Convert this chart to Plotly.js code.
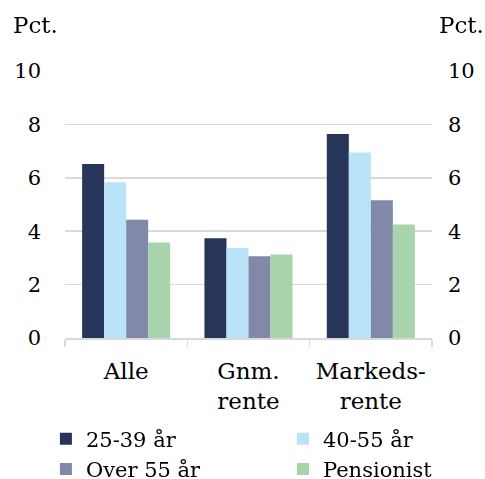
<!DOCTYPE html>
<html>
<head>
<meta charset="utf-8">
<script src="https://cdn.plot.ly/plotly-3.0.1.min.js"></script>
<style>html,body{margin:0;padding:0;background:#fff;}#chart{width:485px;height:479px;}</style>
</head>
<body>
<div id="chart"></div>
<script>
var categories = ["Alle", "Gnm.<br>rente", "Markeds-<br>rente"];
var seriesNames = ["25-39 år", "40-55 år", "Over 55 år", "Pensionist"];
var s1 = [6.52, 3.74, 7.64];
var s2 = [5.83, 3.37, 6.95];
var s3 = [4.43, 3.06, 5.16];
var s4 = [3.58, 3.13, 4.25];
var tickVals = [0, 2, 4, 6, 8, 10];
var tickText = ["0", "2", "4", "6", "8", "10"];
var colors = ["#263559", "#b9e3f7", "#8188a8", "#a8d4ab"];
var legendOf = ["legend", "legend2", "legend", "legend2"];

var FONT = "DejaVu Serif, Liberation Serif, serif";
var allSeries = [s1, s2, s3, s4];
var traces = allSeries.map(function (vals, i) {
  return {
    type: "bar", x: categories, y: vals, name: seriesNames[i],
    marker: {color: colors[i]}, hoverinfo: "skip", legend: legendOf[i]
  };
});
traces.push({
  type: "scatter", mode: "markers", x: categories, y: s1, yaxis: "y2",
  opacity: 0, showlegend: false, hoverinfo: "skip"
});

var legendBase = {
  orientation: "v", y: -0.302, yanchor: "top", xanchor: "left",
  font: {family: FONT, size: 21}, itemwidth: 30, tracegroupgap: 0,
  bgcolor: "rgba(0,0,0,0)", traceorder: "normal"
};

var layout = {
  width: 485, height: 479,
  margin: {l: 65, r: 53, t: 71, b: 141, autoexpand: false},
  paper_bgcolor: "#fff", plot_bgcolor: "#fff",
  font: {family: FONT, size: 20, color: "#000"},
  barmode: "group", bargap: 0.28, bargroupgap: 0,
  xaxis: {
    type: "category", showgrid: false, showline: true, linecolor: "#d9d9d9", linewidth: 1.5,
    ticks: "outside", tickson: "boundaries", ticklen: 7, tickcolor: "#d9d9d9", tickwidth: 1.5,
    ticklabelstandoff: 12, tickfont: {family: FONT, size: 23}, fixedrange: true
  },
  yaxis: {
    range: [0, 10], tickvals: tickVals, ticktext: tickText, showgrid: true,
    gridcolor: "#d9d9d9", gridwidth: 1.5, zeroline: false, showline: false,
    ticks: "", ticklabelstandoff: 23, tickfont: {family: FONT, size: 21}, fixedrange: true
  },
  yaxis2: {
    overlaying: "y", side: "right", range: [0, 10], tickvals: tickVals, ticktext: tickText,
    showgrid: false, zeroline: false, showline: false, ticks: "", ticklabelstandoff: 15,
    tickfont: {family: FONT, size: 21}, fixedrange: true
  },
  legend: Object.assign({}, legendBase, {x: -0.052}),
  legend2: Object.assign({}, legendBase, {x: 0.594}),
  annotations: [
    {text: "Pct.", xref: "paper", yref: "paper", x: -0.147, y: 1.172, xanchor: "left", yanchor: "middle", showarrow: false, font: {family: FONT, size: 23}},
    {text: "Pct.", xref: "paper", yref: "paper", x: 1.0136, y: 1.172, xanchor: "left", yanchor: "middle", showarrow: false, font: {family: FONT, size: 23}}
  ],
  showlegend: true
};
Plotly.newPlot("chart", traces, layout, {displayModeBar: false, staticPlot: true});
</script>
</body>
</html>
